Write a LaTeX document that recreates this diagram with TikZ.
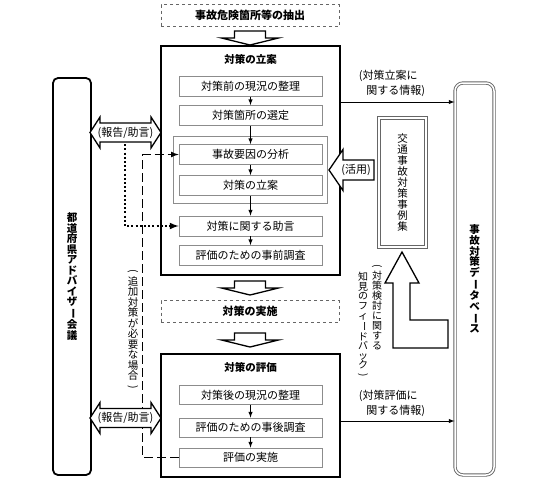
\documentclass[tikz,border=0pt]{standalone}
\usepackage{fontspec}
\setmainfont{Noto Sans CJK JP}
\usepackage{graphicx}
\usetikzlibrary{arrows, calc}
\newcommand{\vbar}{\rotatebox[origin=c]{-90}{ー}}
\newcommand{\vlp}{\rotatebox[origin=c]{-90}{(}}
\newcommand{\vrp}{\rotatebox[origin=c]{-90}{)}}
\tikzset{
    frame/.style={draw=black, line width=1.8pt, inner sep=0pt},
    title/.style={font=\bfseries\fontsize{10.5}{12}\selectfont, inner sep=0pt},
    stepbox/.style={draw=black!45, line width=0.8pt, minimum width=143pt, minimum height=20pt, inner sep=0pt, font=\fontsize{11}{13}\selectfont},
    group/.style={draw=black!45, line width=0.8pt},
    dashbox/.style={draw=black!60, dashed, line width=0.8pt, minimum width=178pt, minimum height=22pt, inner sep=0pt, font=\bfseries\fontsize{11}{13}\selectfont},
    blockarrow/.style={draw=black, line width=1.3pt, fill=white},
    link/.style={-latex, line width=1pt},
    dotline/.style={-latex, line width=2pt, dash pattern=on 2pt off 2.2pt},
    dashline/.style={-latex, line width=1.6pt, dash pattern=on 9pt off 4pt},
    note/.style={font=\fontsize{11}{15}\selectfont, inner sep=0pt, align=left},
    vcol/.style={align=center, inner sep=0pt, font=\fontsize{10.5}{10.5}\selectfont},
    dbbox/.style={draw=black!60, double=white, double distance=1.5pt, line width=0.9pt, rounded corners=8pt}
}

\begin{document}
\begin{tikzpicture}[x=1pt, y=-1pt]
    \useasboundingbox (0,0) rectangle (548,483);
    \node[dashbox] (extract) at (250,15.5) {事故危険箇所等の抽出};
    \node[frame, minimum width=179pt, minimum height=229pt] (planbox) at (250.5,160.5) {};
    \node[title] (plantitle) at (250.5,59) {対策の立案};
    \draw[group] (173,136) rectangle (327,203);
    \node[stepbox] (b1) at (250.5,86.5) {対策前の現況の整理};
    \node[stepbox] (b2) at (250.5,115.5) {対策箇所の選定};
    \node[stepbox] (b3) at (250.5,154.5) {事故要因の分析};
    \node[stepbox] (b4) at (250.5,185.5) {対策の立案};
    \node[stepbox] (b5) at (250.5,226) {対策に関する助言};
    \node[stepbox] (b6) at (250.5,255.5) {評価のための事前調査};
    \draw[link] (b1) -- (b2);
    \draw[link] (b2) -- (b3);
    \draw[link] (b3) -- (b4);
    \draw[link] (b4) -- (b5);
    \draw[link] (b5) -- (b6);
    \node[dashbox] (action) at (250,311.5) {対策の実施};
    \node[frame, minimum width=179pt, minimum height=123pt] (evalbox) at (250.5,415.5) {};
    \node[title] (evaltitle) at (250.5,367) {対策の評価};
    \node[stepbox, minimum height=19pt] (e1) at (250.5,395) {対策後の現況の整理};
    \node[stepbox, minimum height=19pt] (e2) at (250.5,427.5) {評価のための事後調査};
    \node[stepbox, minimum height=19pt] (e3) at (250.5,457.5) {評価の実施};
    \draw[link] (e1) -- (e2);
    \draw[link] (e2) -- (e3);
    \foreach \y in {31,281,333}
        \draw[blockarrow] (234.5,\y) -- ++(31,0) -- ++(0,7) -- ++(13,0) -- ++(-28.5,7) -- ++(-28.5,-7) -- ++(13,0) -- cycle;

    \node[frame, rounded corners=5pt, minimum width=38pt, minimum height=397pt, align=center, font=\bfseries\fontsize{10.5}{10.5}\selectfont] (council) at (72,276.5) {都\\道\\府\\県\\ア\\ド\\バ\\イ\\ザ\\\vbar\\会\\議};
    \coordinate (advice) at (125,140);
    \draw[dotline] (advice) |- (b5.west);
    \draw[dashline] (e3.west) -- ++(-36,0) |- (b3.west);
    \foreach \c/\n in {132.5/report1,418/report2} {
        \draw[blockarrow] (90,\c) -- (100,\c-15.5) -- (100,\c-9.5) -- (151,\c-9.5) -- (151,\c-15.5) -- (161,\c) -- (151,\c+15.5) -- (151,\c+9.5) -- (100,\c+9.5) -- (100,\c+15.5) -- cycle;
        \node[note] (\n) at (125.5,\c) {(報告/助言)};
    }
    \node[vcol] (extra) at (133,330) {\vlp\\追\\加\\対\\策\\が\\必\\要\\な\\場\\合\\\vrp};

    \node[dbbox, minimum width=39pt, minimum height=392pt, align=center, font=\bfseries\fontsize{10.5}{10.6}\selectfont] (db) at (474.5,279) {事\\故\\対\\策\\デ\\\vbar\\タ\\ベ\\\vbar\\ス};
    \node[draw=black!60, double=white, double distance=1.5pt, line width=0.9pt, minimum width=47pt, minimum height=129pt, align=center, font=\fontsize{10.5}{11.1}\selectfont] (cases) at (402.5,182.5) {交\\通\\事\\故\\対\\策\\事\\例\\集};
    \draw[blockarrow] (329,170) -- (343,149.5) -- (343,160) -- (374,160) -- (374,180) -- (343,180) -- (343,190.5) -- cycle;
    \node[note] (use) at (356,170) {(活用)};
    \draw[blockarrow] (448,348) -- (448,320) -- (410,320) -- (410,283) -- (419,283) -- (402,252) -- (385,283) -- (393,283) -- (393,348) -- cycle;
    \node[vcol, anchor=north, font=\fontsize{10}{10}\selectfont] (fb1) at (377,264) {\vlp\\対\\策\\検\\討\\に\\関\\す\\る};
    \node[vcol, anchor=north, font=\fontsize{10}{9.6}\selectfont] (fb2) at (363,272) {知\\見\\の\\フ\\ィ\\\vbar\\ド\\バ\\ッ\\ク\\\vrp};

    \coordinate (planinfo) at (planbox.east |- 0,102);
    \draw[link] (planinfo) -- (planinfo -| db.west);
    \node[note] (plannote) at (392,83.5) {(対策立案に\\\hspace*{0.7em}関する情報)};
    \coordinate (evalinfo) at (evalbox.east |- 0,421);
    \draw[link] (evalinfo) -- (evalinfo -| db.west);
    \node[note] (evalnote) at (392,403.5) {(対策評価に\\\hspace*{0.7em}関する情報)};
\end{tikzpicture}
\end{document}
